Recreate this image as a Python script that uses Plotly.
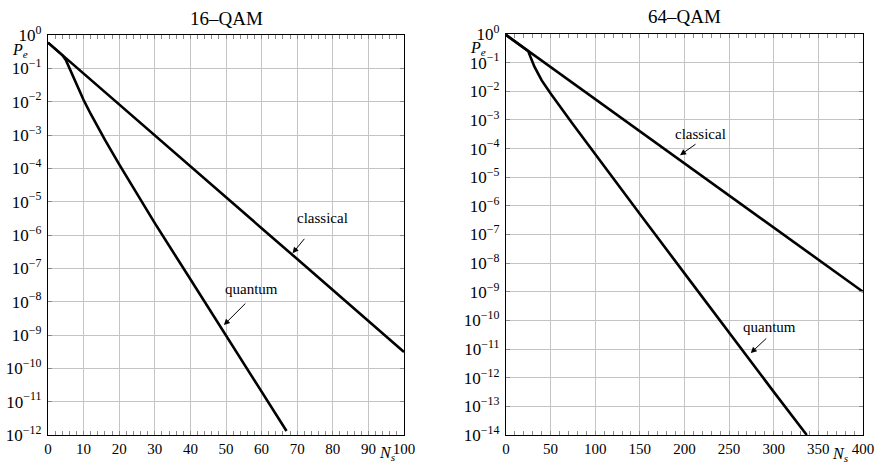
import plotly.graph_objects as go

# ---------------- data ----------------
# 16-QAM panel
c16_x = [0, 10, 20, 30, 40, 50, 60, 70, 80, 90, 100]
c16_pe = [0.59, 6.9e-2, 8.1e-3, 9.7e-4, 1.1e-4, 1.35e-5, 1.6e-6, 1.9e-7, 2.2e-8, 2.6e-9, 3.1e-10]
q16_x = [0, 2, 4, 5, 6, 8, 10, 12, 14, 16, 20, 25, 30, 40, 50, 60, 67]
q16_pe = [0.59, 0.38, 0.25, 0.178, 0.10, 0.0324, 0.0112, 4.27e-3, 1.7e-3, 7.1e-4, 1.32e-4,
          1.7e-5, 2.26e-6, 4.7e-8, 1.0e-9, 2.0e-11, 1.32e-12]

# 64-QAM panel
c64_x = [0, 50, 100, 150, 200, 250, 300, 350, 400]
c64_pe = [0.93, 0.071, 5.4e-3, 4.1e-4, 3.1e-5, 2.3e-6, 1.8e-7, 1.35e-8, 1.0e-9]
q64_x = [0, 10, 20, 25, 28, 32, 40, 50, 75, 100, 150, 200, 250, 300, 337]
q64_pe = [0.93, 0.56, 0.33, 0.251, 0.141, 0.0708, 0.024, 8.3e-3, 7.1e-4, 6.3e-5, 5.2e-7,
          4.4e-9, 3.6e-11, 3.2e-13, 1.0e-14]

titles = ["16–QAM", "64–QAM"]
x16_ticks = [0, 10, 20, 30, 40, 50, 60, 70, 80, 90, 100]
x64_ticks = [0, 50, 100, 150, 200, 250, 300, 350, 400]
y16_exps = list(range(0, -13, -1))
y64_exps = list(range(0, -15, -1))

# ---------------- layout geometry ----------------
W, H = 876, 463
SERIF = "Liberation Serif, Times New Roman, serif"
LINE = dict(color="black", width=2.6)


def px_x(p):
    return p / W


def px_y(p):
    return 1 - p / H


def ytext(e):
    s = str(e).replace("-", "−")
    return "10<sup>%s</sup>" % s


fig = go.Figure()
fig.add_trace(go.Scatter(x=c16_x, y=c16_pe, mode="lines", line=LINE, xaxis="x", yaxis="y", showlegend=False))
fig.add_trace(go.Scatter(x=q16_x, y=q16_pe, mode="lines", line=LINE, xaxis="x", yaxis="y", showlegend=False))
fig.add_trace(go.Scatter(x=c64_x, y=c64_pe, mode="lines", line=LINE, xaxis="x2", yaxis="y2", showlegend=False))
fig.add_trace(go.Scatter(x=q64_x, y=q64_pe, mode="lines", line=LINE, xaxis="x2", yaxis="y2", showlegend=False))

common_x = dict(
    showline=True, linecolor="black", linewidth=1.3, mirror="allticks",
    ticks="inside", ticklen=0, tickcolor="black",
    showgrid=True, gridcolor="#c4c4c4", gridwidth=1, zeroline=False,
    tickfont=dict(family=SERIF, size=15, color="black"),
    automargin=False, fixedrange=True,
)
common_y = dict(common_x)
common_y["type"] = "log"
common_y["tickfont"] = dict(family=SERIF, size=17, color="black")
common_y["ticklabelstandoff"] = 2

fig.update_layout(
    width=W, height=H,
    margin=dict(l=0, r=0, t=0, b=0),
    paper_bgcolor="white", plot_bgcolor="white",
    xaxis=dict(common_x, domain=[px_x(48), px_x(404)], range=[0, 100],
               tickvals=x16_ticks, anchor="y",
               minor=dict(ticks="inside", ticklen=4, dtick=2, tickcolor="#888", showgrid=False)),
    yaxis=dict(common_y, domain=[px_y(435), px_y(35)], range=[-12, 0],
               tickvals=[10 ** e for e in y16_exps], ticktext=[ytext(e) for e in y16_exps],
               anchor="x",
               minor=dict(ticks="inside", ticklen=4, tickcolor="#888", showgrid=False)),
    xaxis2=dict(common_x, domain=[px_x(506), px_x(863)], range=[0, 400],
                tickvals=x64_ticks, anchor="y2",
                minor=dict(ticks="inside", ticklen=4, dtick=10, tickcolor="#888", showgrid=False)),
    yaxis2=dict(common_y, domain=[px_y(435), px_y(34)], range=[-14, 0],
                tickvals=[10 ** e for e in y64_exps], ticktext=[ytext(e) for e in y64_exps],
                anchor="x2",
                minor=dict(ticks="inside", ticklen=4, tickcolor="#888", showgrid=False)),
)

ann = []
# titles
ann.append(dict(text=titles[0], x=px_x(226), y=px_y(18), xref="paper", yref="paper",
                showarrow=False, xanchor="center", yanchor="middle",
                font=dict(family=SERIF, size=19, color="black")))
ann.append(dict(text=titles[1], x=px_x(684.5), y=px_y(17), xref="paper", yref="paper",
                showarrow=False, xanchor="center", yanchor="middle",
                font=dict(family=SERIF, size=19, color="black")))
# axis labels
for (xx, yy) in [(20, 51), (478, 49)]:
    ann.append(dict(text="<i>P</i><sub><i>e</i></sub>", x=px_x(xx), y=px_y(yy), xref="paper", yref="paper",
                    showarrow=False, xanchor="center", yanchor="middle",
                    font=dict(family=SERIF, size=16, color="black")))
for (xx, yy) in [(387, 453), (840, 454)]:
    ann.append(dict(text="<i>N</i><sub><i>s</i></sub>", x=px_x(xx), y=px_y(yy), xref="paper", yref="paper",
                    showarrow=False, xanchor="center", yanchor="middle",
                    font=dict(family=SERIF, size=16, color="black")))

# curve labels and arrows
labels = [
    # text, text_x, text_logy, head_x, head_logy, ax, ay, xref, yref
    ("classical", 77.2, -5.49, 68.7, -6.55, 13, -16, "x", "y"),
    ("quantum", 57.3, -7.62, 49.4, -8.7, 23, -23, "x", "y"),
    ("classical", 217.9, -3.50, 195, -4.23, 17, -12, "x2", "y2"),
    ("quantum", 294.7, -10.24, 274.2, -11.14, 17, -16, "x2", "y2"),
]
for t, tx, ty, hx, hy, ax, ay, xr, yr in labels:
    ann.append(dict(text=t, x=tx, y=ty, xref=xr, yref=yr, showarrow=False,
                    xanchor="center", yanchor="middle",
                    font=dict(family=SERIF, size=15, color="black")))
    ann.append(dict(text="", x=hx, y=hy, xref=xr, yref=yr, showarrow=True,
                    ax=ax, ay=ay, arrowhead=2, arrowsize=1.2, arrowwidth=1,
                    arrowcolor="black", standoff=0))

fig.update_layout(annotations=ann)
fig.write_html("out.html", config={"displayModeBar": False},
               post_script="document.body.style.margin='0';")
